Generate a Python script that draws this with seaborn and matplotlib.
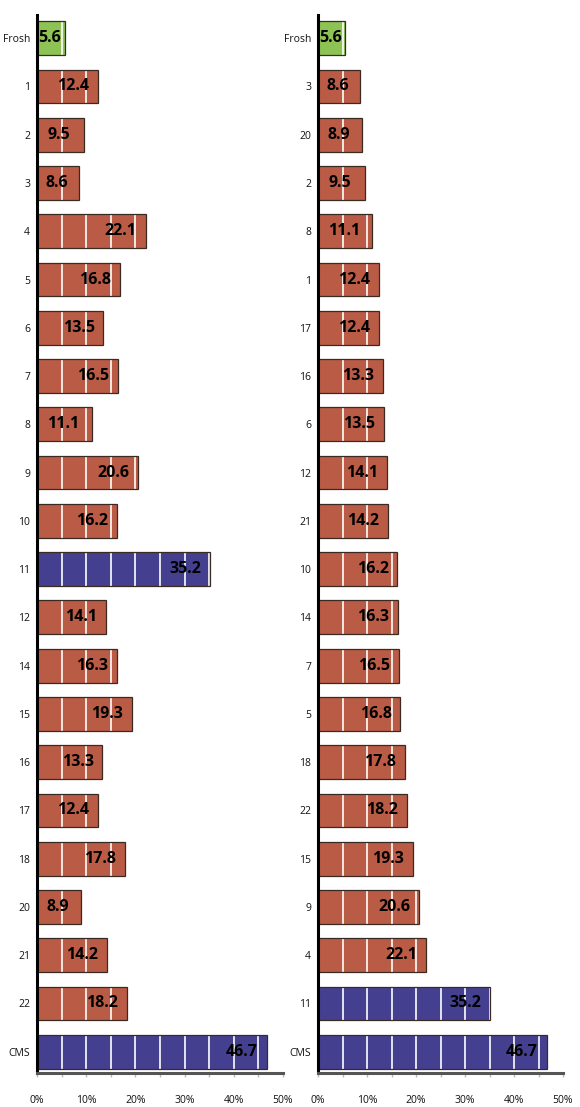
import numpy as np
import pandas as pd
import matplotlib
matplotlib.use("Agg")
import matplotlib.pyplot as plt
from matplotlib.patches import Rectangle
import seaborn as sns

# ---- data ----
labels = ["Frosh", "1", "2", "3", "4", "5", "6", "7", "8", "9", "10", "11",
          "12", "14", "15", "16", "17", "18", "20", "21", "22", "CMS"]
values = [5.6, 12.4, 9.5, 8.6, 22.1, 16.8, 13.5, 16.5, 11.1, 20.6, 16.2, 35.2,
          14.1, 16.3, 19.3, 13.3, 12.4, 17.8, 8.9, 14.2, 18.2, 46.7]
sorted_order = ["Frosh", "3", "20", "2", "8", "1", "17", "16", "6", "12", "21",
                "10", "14", "7", "5", "18", "22", "15", "9", "4", "11", "CMS"]
tick_values = [0, 10, 20, 30, 40, 50]
tick_labels = ["0%", "10%", "20%", "30%", "40%", "50%"]

GREEN = "#8dc355"
RUST = "#b95b45"
BLUE = "#44408f"
group_color = {"Frosh": GREEN, "11": BLUE, "CMS": BLUE}
palette = {l: group_color.get(l, RUST) for l in labels}

df = pd.DataFrame({"label": labels, "value": values})

sns.set_style("white")
plt.rcParams["font.family"] = ["Open Sans", "DejaVu Sans"]

fig = plt.figure(figsize=(5.8, 11.07), dpi=100)
ax_left = fig.add_axes([37 / 580, 1 - 1073 / 1107, 246 / 580, 1058 / 1107])
ax_right = fig.add_axes([318 / 580, 1 - 1073 / 1107, 245 / 580, 1058 / 1107])


def draw(ax, order):
    sns.barplot(data=df, x="value", y="label", hue="label", palette=palette,
                order=order, hue_order=labels, orient="h", width=0.7,
                edgecolor="none", linewidth=0, legend=False, ax=ax,
                saturation=1)
    for p in ax.patches:
        p.set_zorder(1)
    for x in np.arange(5, 50, 5):
        ax.axvline(x, color="white", lw=1.2, zorder=2)
    for p in list(ax.patches):
        ax.add_patch(Rectangle(p.get_xy(), p.get_width(), p.get_height(),
                               fill=False, ec="#3b2a22", lw=0.9, zorder=2.2))
    vmap = dict(zip(labels, values))
    for i, lab in enumerate(order):
        v = vmap[lab]
        if v < 12:
            ax.text(v / 2 - 0.3, i, f"{v:.1f}", ha="center", va="center",
                    fontsize=11.5, fontweight="bold", color="#000000", zorder=3)
        else:
            ax.text(v - 1.8, i, f"{v:.1f}", ha="right", va="center",
                    fontsize=11.5, fontweight="bold", color="#000000", zorder=3)
    ax.set_xlim(0, 50)
    ax.set_ylim(21.44, -0.48)
    ax.set_xlabel("")
    ax.set_ylabel("")
    ax.set_xticks(tick_values)
    ax.set_xticklabels(tick_labels)
    ax.set_xticks(np.arange(5, 50, 10), minor=True)
    ax.tick_params(axis="x", which="both", direction="out", length=3,
                   width=1, color="#bbbbbb", pad=13, labelsize=7.5,
                   labelcolor="#111111", bottom=True)
    ax.tick_params(axis="y", length=0, pad=5, labelsize=7.5,
                   labelcolor="#111111")
    for s in ["top", "right"]:
        ax.spines[s].set_visible(False)
    ax.spines["left"].set_color("#000000")
    ax.spines["left"].set_linewidth(2.2)
    ax.spines["bottom"].set_color("#555555")
    ax.spines["bottom"].set_linewidth(2.2)
    ax.set_facecolor("white")
    ax.grid(False)


draw(ax_left, labels)
draw(ax_right, sorted_order)

fig.savefig("out.png", dpi=100, facecolor="white")
